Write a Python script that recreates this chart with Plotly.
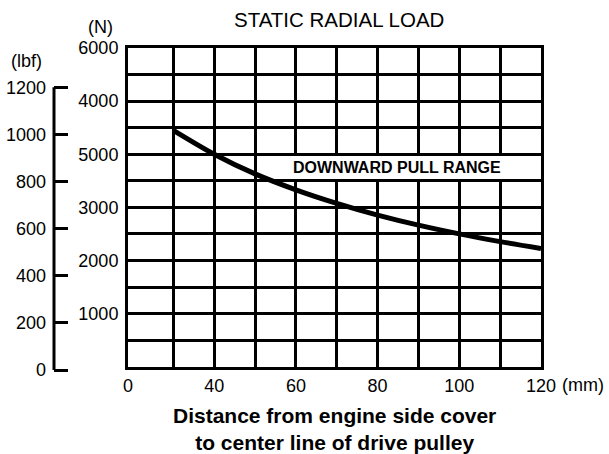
import plotly.graph_objects as go

# ---- data ----
distance_mm = [30, 40, 50, 60, 70, 80, 90, 100, 110, 120]
load_N = [4450, 4000, 3630, 3330, 3075, 2855, 2665, 2500, 2355, 2225]

# x axis is broken: left edge is labelled "0"
X_MIN = 18.9
X_MAX = 120
x_grid = [X_MIN, 30, 40, 50, 60, 70, 80, 90, 100, 110, 120]
x_text = ["0", "", "40", "", "60", "", "80", "", "100", "", "120"]

y_grid = [0, 500, 1000, 1500, 2000, 2500, 3000, 3500, 4000, 4500, 5000, 5500, 6000]
y_text = ["", "", "1000", "", "2000", "", "3000", "", "5000", "", "4000", "", "6000"]

lbf_ticks = [0, 200, 400, 600, 800, 1000, 1200]
lbf_range = [-8.5, 1367]

FONT = "Liberation Sans, Arial, sans-serif"

W, H = 609, 454
ml, mr, mt, mb = 0, 68, 48, 82
pw = W - ml - mr
ph = H - mt - mb
PLOT_BOTTOM_PX = 366.7

def px_x(px):
    return (px - ml) / pw

def px_y(py):
    return (H - mb - py) / ph

fig = go.Figure()
fig.add_trace(go.Scatter(
    x=distance_mm, y=load_N, mode="lines",
    line=dict(color="black", width=5, shape="spline", smoothing=0.8),
    showlegend=False, hoverinfo="skip"))
fig.add_trace(go.Scatter(x=[], y=[], xaxis="x2", yaxis="y2", showlegend=False))

fig.update_layout(
    width=W, height=H,
    margin=dict(l=ml, r=mr, t=mt, b=mb, autoexpand=False),
    paper_bgcolor="white", plot_bgcolor="white",
    font=dict(family=FONT, size=18, color="black"),
    xaxis=dict(
        domain=[px_x(128), 1], range=[X_MIN, X_MAX], anchor="y",
        tickmode="array", tickvals=x_grid, ticktext=x_text,
        showgrid=True, gridcolor="black", gridwidth=2.5,
        showline=True, linecolor="black", linewidth=3, mirror=True,
        zeroline=False, ticks="", ticklabelstandoff=1,
        tickfont=dict(size=18)),
    yaxis=dict(
        domain=[px_y(PLOT_BOTTOM_PX), 1], range=[0, 6000], anchor="x",
        tickmode="array", tickvals=y_grid, ticktext=y_text,
        showgrid=True, gridcolor="black", gridwidth=2.5,
        showline=True, linecolor="black", linewidth=3, mirror=True,
        zeroline=False, ticks="", ticklabelstandoff=3,
        tickfont=dict(size=18)),
    xaxis2=dict(domain=[px_x(54), px_x(58)], anchor="y2", visible=False,
                range=[0, 1]),
    yaxis2=dict(
        domain=[0, 1], anchor="x2", side="left",
        range=lbf_range, tickmode="array", tickvals=lbf_ticks,
        showgrid=False, zeroline=False, showline=False,
        ticks="inside", ticklen=14, tickwidth=3, tickcolor="black",
        ticklabelstandoff=7, tickfont=dict(size=18)),
)

# lbf axis line (only spans 0..1200)
fig.add_shape(type="line", xref="paper", yref="y2",
              x0=px_x(54), x1=px_x(54), y0=lbf_ticks[0], y1=lbf_ticks[-1],
              line=dict(color="black", width=3))

ann = [
    dict(text="STATIC RADIAL LOAD", x=px_x(338.5), y=px_y(19), size=20.5),
    dict(text="(N)", x=px_x(100), y=px_y(27), size=18),
    dict(text="(lbf)", x=px_x(26), y=px_y(61), size=18),
    dict(text="(mm)", x=px_x(583), y=px_y(385), size=18),
    dict(text="<b>Distance from engine side cover<br>to center line of drive pulley</b>",
         x=px_x(334.5), y=px_y(429), size=21),
]
for a in ann:
    fig.add_annotation(text=a["text"], xref="paper", yref="paper",
                       x=a["x"], y=a["y"], xanchor="center", yanchor="middle",
                       showarrow=False, font=dict(size=a["size"], family=FONT, color="black"))

fig.add_annotation(text="<b>DOWNWARD PULL RANGE</b>", xref="x", yref="y",
                   x=84.7, y=3750, xanchor="center", yanchor="middle",
                   showarrow=False, bgcolor="white", borderpad=0, borderwidth=0,
                   width=216, height=23,
                   font=dict(size=16, family=FONT, color="black"))

fig.write_html("out.html", config={"displayModeBar": False},
               post_script="document.body.style.margin='0';document.body.style.padding='0';")
